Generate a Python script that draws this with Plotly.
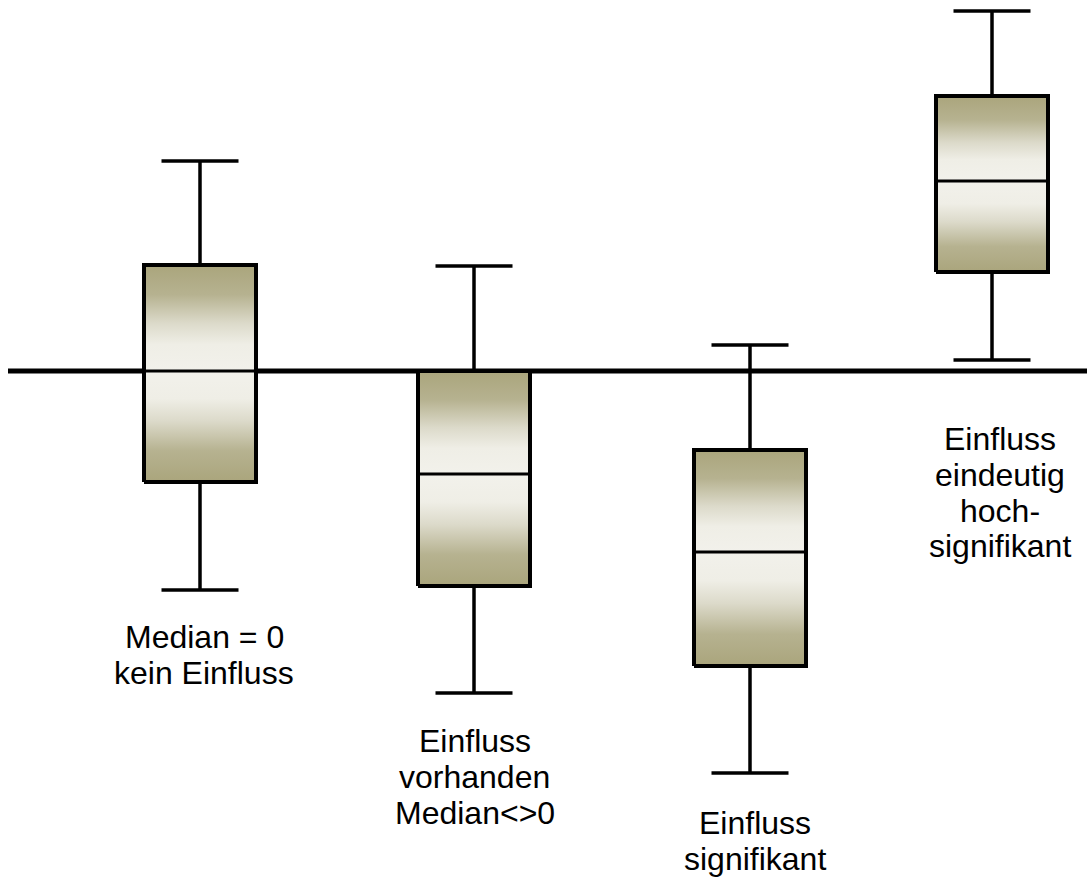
import plotly.graph_objects as go

# data (arbitrary units; 0 = reference line)
positions = [2.0, 4.74, 7.5, 9.92]
whisker_max = [21.0, 10.5, 2.6, 36.0]
q3 = [10.6, 0.0, -7.9, 27.5]
median = [0.0, -10.3, -18.1, 19.0]
q1 = [-11.1, -21.5, -29.5, 9.9]
whisker_min = [-21.9, -32.2, -40.2, 1.1]

labels = ["Median = 0<br>kein Einfluss",
          "Einfluss<br>vorhanden<br>Median<>0",
          "Einfluss<br>signifikant",
          "Einfluss<br>eindeutig<br>hoch-<br>signifikant"]
label_x = [2.04, 4.745, 7.545, 10.0]
label_y = [-26.6, -37.0, -45.2, -6.8]

BOX_HW = 0.56
CAP_HW = 0.385
LINE_STEP = 3.58

OLIVE = "#aaa57c"
WHITE = "#f2f1eb"
# colorscale from median (white) to edge (olive)
scale_up = [[0, WHITE], [0.25, "#efeee6"], [0.45, "#dcdaca"], [0.72, "#b6b290"], [1, OLIVE]]
scale_down = [[1 - p, c] for p, c in reversed(scale_up)]

fig = go.Figure()

# reference line at 0
fig.add_trace(go.Scatter(x=[0.08, 10.87], y=[0, 0], mode="lines",
                         line=dict(color="black", width=5), hoverinfo="skip"))

for i, xc in enumerate(positions):
    x0, x1 = xc - BOX_HW, xc + BOX_HW
    # whiskers
    fig.add_trace(go.Scatter(x=[xc, xc], y=[q3[i], whisker_max[i]], mode="lines",
                             line=dict(color="black", width=3.5), hoverinfo="skip"))
    fig.add_trace(go.Scatter(x=[xc, xc], y=[whisker_min[i], q1[i]], mode="lines",
                             line=dict(color="black", width=3.5), hoverinfo="skip"))
    fig.add_trace(go.Scatter(x=[xc - CAP_HW, xc + CAP_HW], y=[whisker_max[i]] * 2, mode="lines",
                             line=dict(color="black", width=3.5), hoverinfo="skip"))
    fig.add_trace(go.Scatter(x=[xc - CAP_HW, xc + CAP_HW], y=[whisker_min[i]] * 2, mode="lines",
                             line=dict(color="black", width=3.5), hoverinfo="skip"))
    # upper half fill (median -> q3)
    fig.add_trace(go.Scatter(x=[x0, x1, x1, x0, x0],
                             y=[median[i], median[i], q3[i], q3[i], median[i]],
                             mode="lines", fill="toself", line=dict(width=0),
                             fillgradient=dict(type="vertical", colorscale=scale_up,
                                               start=median[i], stop=q3[i]),
                             hoverinfo="skip"))
    # lower half fill (q1 -> median)
    fig.add_trace(go.Scatter(x=[x0, x1, x1, x0, x0],
                             y=[q1[i], q1[i], median[i], median[i], q1[i]],
                             mode="lines", fill="toself", line=dict(width=0),
                             fillgradient=dict(type="vertical", colorscale=scale_down,
                                               start=q1[i], stop=median[i]),
                             hoverinfo="skip"))
    # box outline
    fig.add_trace(go.Scatter(x=[x0, x1, x1, x0, x0],
                             y=[q1[i], q1[i], q3[i], q3[i], q1[i]],
                             mode="lines", line=dict(color="black", width=4),
                             hoverinfo="skip"))
    # median
    fig.add_trace(go.Scatter(x=[x0, x1], y=[median[i]] * 2, mode="lines",
                             line=dict(color="black", width=3), hoverinfo="skip"))

annotations = []
for lab, lx, ly in zip(labels, label_x, label_y):
    for k, line in enumerate(lab.split("<br>")):
        annotations.append(dict(x=lx, y=ly - k * LINE_STEP, text=line, showarrow=False,
                                xanchor="center", yanchor="middle",
                                font=dict(family="Liberation Sans, Arial, sans-serif",
                                          size=32, color="black")))

fig.update_layout(
    width=1087, height=881,
    margin=dict(l=0, r=0, t=0, b=0),
    paper_bgcolor="white", plot_bgcolor="white",
    showlegend=False,
    xaxis=dict(range=[0, 10.87], visible=False, fixedrange=True),
    yaxis=dict(range=[-51.0, 37.1], visible=False, fixedrange=True),
    annotations=annotations,
)

fig.write_html("out.html",
               config={"displayModeBar": False, "staticPlot": True},
               post_script="document.body.style.margin='0';document.body.style.overflow='hidden';")
